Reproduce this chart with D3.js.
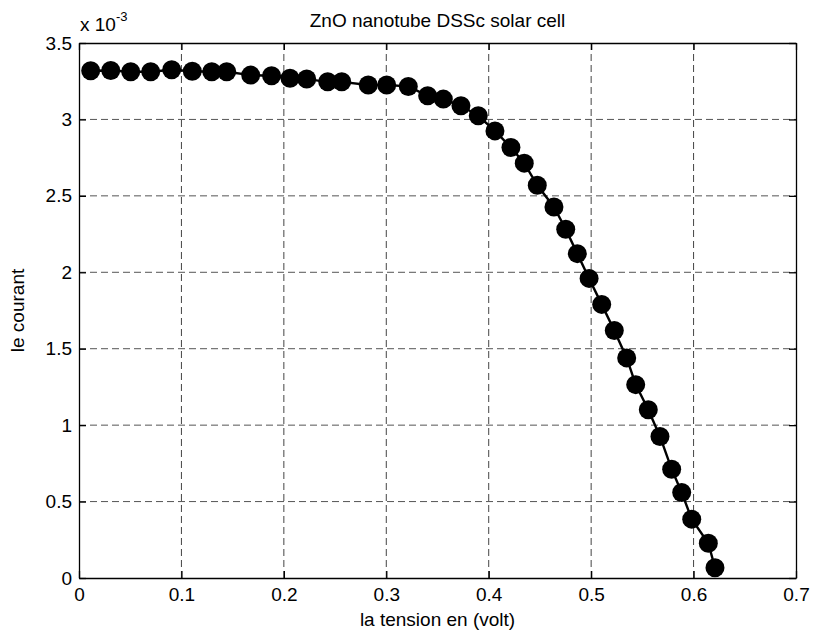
<!DOCTYPE html>
<html>
<head>
<meta charset="utf-8">
<script src="https://cdn.jsdelivr.net/npm/d3@7"></script>
<style>
	body{margin:0;background:#fff}
	#my_dataviz{width:816px;height:635px}
	text{font-family:"Liberation Sans",Arial,sans-serif;fill:#000}
</style>
</head>
<body>
<div id="my_dataviz"></div>
<script>

// tension (V)
var voltage=[0.0114,0.031,0.0505,0.070,0.0905,0.1106,0.1296,0.1442,0.1676,0.188,
	0.206,0.2223,0.2428,0.2565,0.2824,0.3004,0.3215,0.3404,0.3557,0.3729,
	0.3898,0.4061,0.4217,0.4347,0.4474,0.4637,0.4752,0.4865,0.498,0.5103,
	0.5226,0.5347,0.5435,0.5558,0.5672,0.5786,0.5884,0.5982,0.6144,0.6209]

// courant (x 10^-3 A)
var current=[3.318,3.32,3.312,3.312,3.325,3.315,3.312,3.312,3.29,3.286,
	3.269,3.264,3.246,3.246,3.225,3.225,3.216,3.155,3.133,3.089,
	3.024,2.925,2.816,2.714,2.569,2.427,2.282,2.122,1.96,1.79,
	1.619,1.44,1.265,1.101,0.926,0.712,0.559,0.385,0.227,0.0675]

var xTicks=[0,0.1,0.2,0.3,0.4,0.5,0.6,0.7]
var yTicks=[0,0.5,1,1.5,2,2.5,3,3.5]
var yTickLabels=["0","0.5","1","1.5","2","2.5","3","3.5"]

var titleText="ZnO nanotube DSSc solar cell"
var xLabelText="la tension en (volt)"
var yLabelText="le courant"

class IVChart{

	constructor(){
		this.graph={}
	}

	start(){
		this.graph.margin={top:43,right:20,bottom:57,left:79}
		this.graph.width=816
		this.graph.height=635

		this.graph.svg=d3.select("#my_dataviz").append("svg")
			.attr("width",this.graph.width)
			.attr("height",this.graph.height)

		this.drawAxis()
		this.drawLine()
		this.drawTexts()
	}

	drawAxis(){
		var m=this.graph.margin
		var svg=this.graph.svg

		this.graph.x=d3.scaleLinear()
			.domain([0,0.7])
			.range([m.left,this.graph.width-m.right])

		this.graph.y=d3.scaleLinear()
			.domain([0,3.5])
			.range([this.graph.height-m.bottom,m.top])

		var x=this.graph.x, y=this.graph.y
		var x0=x.range()[0], x1=x.range()[1]
		var y0=y.range()[0], y1=y.range()[1]

		// dashed grid
		var grid=svg.append("g").attr("class","grid")
		grid.selectAll(".vgrid")
			.data(xTicks.slice(1,-1))
			.enter()
			.append("line")
			.attr("x1",d=>x(d)).attr("x2",d=>x(d))
			.attr("y1",y0).attr("y2",y1)
			.attr("stroke","#444")
			.attr("stroke-dasharray","7,4")
		grid.selectAll(".hgrid")
			.data(yTicks.slice(1,-1))
			.enter()
			.append("line")
			.attr("x1",x0).attr("x2",x1)
			.attr("y1",d=>y(d)).attr("y2",d=>y(d))
			.attr("stroke","#555")
			.attr("stroke-dasharray","7,4")

		// matlab style: ticks inside on all four sides
		var tick=7
		var fmt=d=>d==0?"0":d3.format("")(d)

		svg.append("g")
			.attr("transform","translate(0,"+y0+")")
			.call(d3.axisBottom(x).tickValues(xTicks).tickSizeInner(-tick).tickSizeOuter(0).tickPadding(10).tickFormat(fmt))
		svg.append("g")
			.attr("transform","translate(0,"+y1+")")
			.call(d3.axisTop(x).tickValues(xTicks).tickSizeInner(-tick).tickSizeOuter(0).tickFormat(""))
		svg.append("g")
			.attr("transform","translate("+x0+",0)")
			.call(d3.axisLeft(y).tickValues(yTicks).tickSizeInner(-tick).tickSizeOuter(0).tickPadding(7).tickFormat((d,i)=>yTickLabels[i]))
		svg.append("g")
			.attr("transform","translate("+x1+",0)")
			.call(d3.axisRight(y).tickValues(yTicks).tickSizeInner(-tick).tickSizeOuter(0).tickFormat(""))

		svg.selectAll(".tick text")
			.style("font-size","19px")
		svg.selectAll(".domain,.tick line")
			.attr("stroke","#000")
			.attr("stroke-width",1.3)
	}

	drawLine(){
		var x=this.graph.x, y=this.graph.y
		var pts=voltage.map((v,i)=>({v:v,c:current[i]}))

		var lineMaker=d3.line()
			.x(d=>x(d.v))
			.y(d=>y(d.c))

		this.graph.svg.append("path")
			.datum(pts)
			.attr("fill","none")
			.attr("stroke","#000")
			.attr("stroke-width",2.4)
			.attr("d",lineMaker)

		this.graph.svg.selectAll(".dot")
			.data(pts)
			.enter()
			.append("circle")
			.attr("class","dot")
			.attr("cx",d=>x(d.v))
			.attr("cy",d=>y(d.c))
			.attr("r",9.5)
			.attr("fill","#000")
	}

	drawTexts(){
		var svg=this.graph.svg
		var x=this.graph.x, y=this.graph.y
		var cx=(x.range()[0]+x.range()[1])/2
		var cy=(y.range()[0]+y.range()[1])/2

		svg.append("text")
			.attr("x",cx).attr("y",27)
			.attr("text-anchor","middle")
			.style("font-size","19px")
			.text(titleText)

		svg.append("text")
			.attr("x",cx).attr("y",626)
			.attr("text-anchor","middle")
			.style("font-size","19px")
			.text(xLabelText)

		svg.append("text")
			.attr("transform","translate(24,"+cy+") rotate(-90)")
			.attr("text-anchor","middle")
			.style("font-size","19px")
			.text(yLabelText)

		// exponent in the corner
		var ex=svg.append("text")
			.attr("x",x.range()[0]+1).attr("y",31)
			.style("font-size","19px")
		ex.append("tspan").text("x 10")
		ex.append("tspan").attr("dy",-10).style("font-size","13px").text("-3")
	}
}

var chart=new IVChart()
chart.start()

</script>
</body>
</html>
